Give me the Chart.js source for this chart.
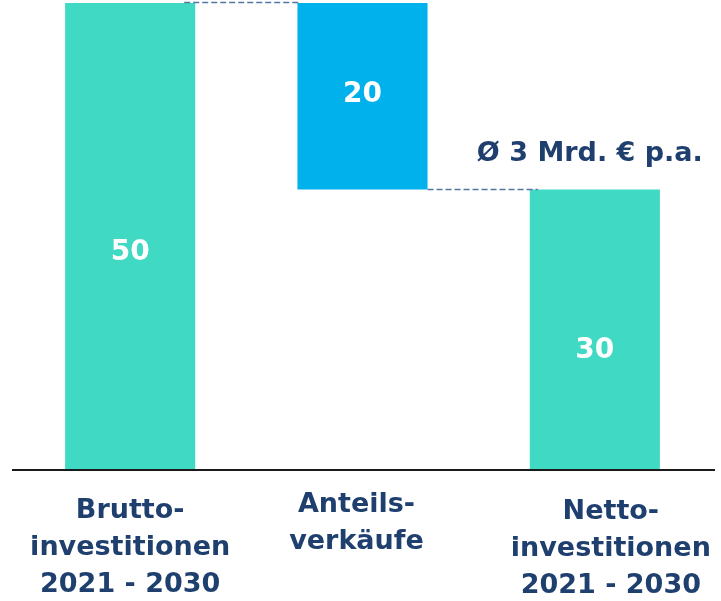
<!DOCTYPE html>
<html>
<head>
<meta charset="utf-8">
<script src="https://cdn.jsdelivr.net/npm/chart.js@4"></script>
<style>
  html, body { margin: 0; padding: 0; background: #ffffff; }
  #wrap { width: 721px; height: 601px; position: relative; }
</style>
</head>
<body>
<div id="wrap"><canvas id="c" width="721" height="601"></canvas></div>
<script>
// ---- data ----
const categories = [
  ["Brutto-", "investitionen", "2021 - 2030"],
  ["Anteils-", "verkäufe"],
  ["Netto-", "investitionen", "2021 - 2030"]
];
const values = [50, 20, 30];           // displayed values
const barKinds = ["total", "decrease", "total"];
const annotationText = "Ø 3 Mrd. € p.a.";
const yMin = 0, yMax = 50;

// ---- styles ----
const TEAL = "#40D9C4";
const BLUE = "#00B1EB";
const NAVY = "#1F406F";
const FONT = "'DejaVu Sans', sans-serif";

// build floating ranges for waterfall
let running = 0;
const ranges = values.map((v, i) => {
  if (barKinds[i] === "total") { running = v; return [0, v]; }
  const top = running, bottom = running - v; running = bottom; return [bottom, top];
});
const colors = barKinds.map(k => k === "total" ? TEAL : BLUE);

// per-bar label nudges (style only)
const valueLabelDy = [14, -4, 19];
const catLabelDx = [0, -6, 16];
const catLabelBase = [518, 512, 519];

const waterfallPlugin = {
  id: "waterfall",
  afterDatasetsDraw(chart) {
    const ctx = chart.ctx;
    const meta = chart.getDatasetMeta(0);
    const y = chart.scales.y, x = chart.scales.x;
    const area = chart.chartArea;

    // axis line
    ctx.save();
    ctx.strokeStyle = "#1a1a1a";
    ctx.lineWidth = 2;
    ctx.beginPath();
    ctx.moveTo(12, area.bottom + 1);
    ctx.lineTo(715, area.bottom + 1);
    ctx.stroke();
    ctx.restore();

    // connectors
    ctx.save();
    ctx.strokeStyle = "#5575A5";
    ctx.lineWidth = 1.5;
    ctx.setLineDash([6, 3]);
    for (let i = 0; i < ranges.length - 1; i++) {
      const a = meta.data[i], b = meta.data[i + 1];
      let level;
      if (barKinds[i + 1] === "decrease") level = ranges[i][1];
      else level = ranges[i][0];
      const py = Math.round(y.getPixelForValue(level)) + 0.5 - (i === 0 ? 1 : 0);
      const x0 = a.x + a.width / 2 - (i === 0 ? 11 : 0);
      const x1 = b.x - b.width / 2 + (i === 0 ? 2 : 8);
      ctx.beginPath();
      ctx.moveTo(x0, py);
      ctx.lineTo(x1, py);
      ctx.stroke();
    }
    ctx.restore();

    // value labels
    ctx.save();
    ctx.fillStyle = "#ffffff";
    ctx.font = "bold 28px " + FONT;
    ctx.textAlign = "center";
    ctx.textBaseline = "alphabetic";
    meta.data.forEach((bar, i) => {
      const mid = (y.getPixelForValue(ranges[i][0]) + y.getPixelForValue(ranges[i][1])) / 2;
      ctx.fillText(String(values[i]), bar.x, mid + valueLabelDy[i] + 10);
    });
    ctx.restore();

    // annotation above last bar
    ctx.save();
    const last = meta.data[meta.data.length - 1];
    ctx.fillStyle = NAVY;
    ctx.font = "bold 27px " + FONT;
    ctx.textAlign = "center";
    ctx.textBaseline = "alphabetic";
    ctx.fillText(annotationText, last.x - 5, y.getPixelForValue(ranges[2][1]) - 28);
    ctx.restore();

    // category labels
    ctx.save();
    ctx.fillStyle = NAVY;
    ctx.font = "bold 27px " + FONT;
    ctx.textAlign = "center";
    ctx.textBaseline = "alphabetic";
    categories.forEach((lines, i) => {
      const cx = x.getPixelForValue(i) + catLabelDx[i];
      lines.forEach((ln, j) => {
        ctx.fillText(ln, cx, catLabelBase[i] + j * 37);
      });
    });
    ctx.restore();
  }
};

new Chart(document.getElementById("c"), {
  type: "bar",
  data: {
    labels: categories.map(c => c.join(" ")),
    datasets: [{
      data: ranges,
      backgroundColor: colors,
      borderWidth: 0,
      barPercentage: 1,
      categoryPercentage: 0.56
    }]
  },
  options: {
    responsive: false,
    animation: false,
    layout: { padding: { top: 3, bottom: 132, left: 14, right: 10 } },
    plugins: { legend: { display: false }, tooltip: { enabled: false } },
    scales: {
      x: {
        display: false,
        grid: { display: false }
      },
      y: {
        display: false,
        min: yMin, max: yMax
      }
    }
  },
  plugins: [waterfallPlugin]
});
</script>
</body>
</html>
